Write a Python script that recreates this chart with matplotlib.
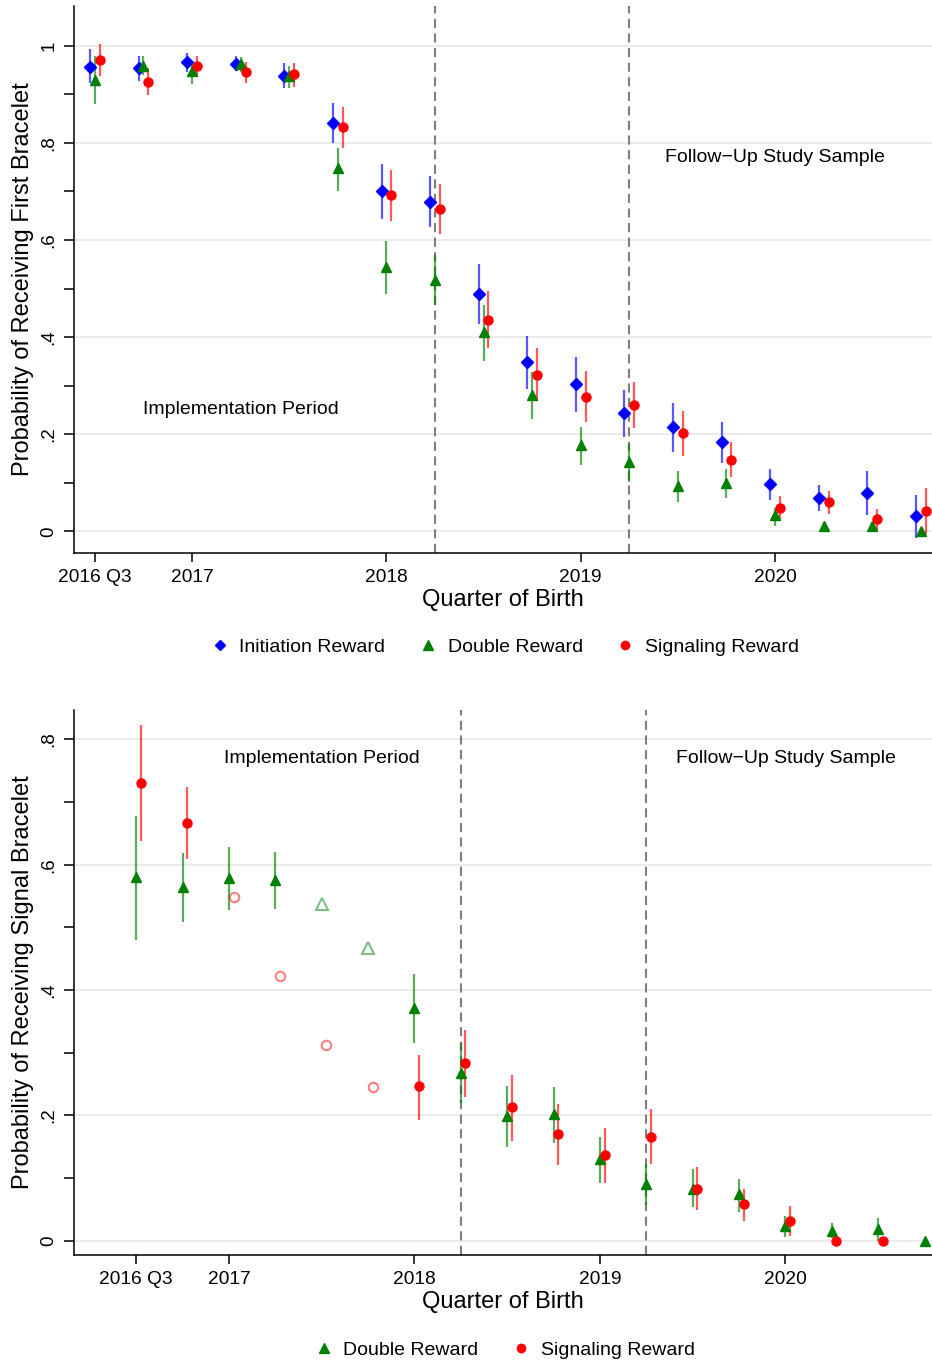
import numpy as np
import matplotlib
matplotlib.use("Agg")
import matplotlib.pyplot as plt
from matplotlib.lines import Line2D

plt.rcParams['font.family'] = ['Liberation Sans', 'DejaVu Sans']

nan = np.nan

# quarters of birth, 2016 Q3 .. 2020 Q4
quarters = ["2016 Q3", "2016 Q4", "2017 Q1", "2017 Q2", "2017 Q3", "2017 Q4",
            "2018 Q1", "2018 Q2", "2018 Q3", "2018 Q4", "2019 Q1", "2019 Q2",
            "2019 Q3", "2019 Q4", "2020 Q1", "2020 Q2", "2020 Q3", "2020 Q4"]
tick_quarters = ["2016 Q3", "2017 Q1", "2018 Q1", "2019 Q1", "2020 Q1"]
tick_labels = ["2016 Q3", "2017", "2018", "2019", "2020"]
cut_quarters = ["2018 Q2", "2019 Q2"]

# panel A: first bracelet
init_pt = [0.957, 0.954, 0.966, 0.962, 0.938, 0.841, 0.700, 0.679, 0.489, 0.348,
           0.303, 0.243, 0.214, 0.184, 0.097, 0.069, 0.080, 0.031]
init_lo = [0.923, 0.928, 0.947, 0.949, 0.913, 0.799, 0.643, 0.627, 0.428, 0.293,
           0.246, 0.195, 0.164, 0.140, 0.064, 0.041, 0.033, -0.013]
init_hi = [0.994, 0.978, 0.985, 0.978, 0.964, 0.883, 0.756, 0.732, 0.550, 0.402,
           0.359, 0.291, 0.264, 0.225, 0.129, 0.096, 0.124, 0.074]

double_pt = [0.930, 0.959, 0.948, 0.963, 0.937, 0.748, 0.544, 0.518, 0.411, 0.280,
             0.177, 0.143, 0.093, 0.100, 0.033, 0.012, 0.012, 0.001]
double_lo = [0.880, 0.940, 0.922, 0.947, 0.913, 0.701, 0.488, 0.466, 0.351, 0.232,
             0.136, 0.102, 0.061, 0.069, 0.012, 0.003, 0.000, 0.000]
double_hi = [0.978, 0.978, 0.968, 0.977, 0.959, 0.789, 0.598, 0.569, 0.467, 0.328,
             0.215, 0.181, 0.124, 0.129, 0.049, 0.020, 0.020, 0.004]

signal_pt = [0.971, 0.926, 0.959, 0.946, 0.942, 0.832, 0.693, 0.663, 0.436, 0.323,
             0.277, 0.260, 0.203, 0.148, 0.049, 0.060, 0.025, 0.042]
signal_lo = [0.938, 0.898, 0.938, 0.924, 0.916, 0.790, 0.640, 0.612, 0.377, 0.269,
             0.225, 0.212, 0.155, 0.111, 0.025, 0.035, 0.002, -0.005]
signal_hi = [1.004, 0.954, 0.978, 0.966, 0.964, 0.873, 0.744, 0.715, 0.495, 0.377,
             0.330, 0.307, 0.247, 0.184, 0.072, 0.083, 0.047, 0.090]

# panel B: signal bracelet
dbl2_pt = [0.580, 0.565, 0.579, 0.576, nan, nan, 0.371, 0.267, 0.199, 0.202,
           0.130, 0.090, 0.083, 0.074, 0.024, 0.016, 0.0185, 0.000]
dbl2_lo = [0.480, 0.509, 0.527, 0.529, nan, nan, 0.316, 0.219, 0.149, 0.156,
           0.092, 0.057, 0.053, 0.045, 0.006, 0.004, 0.000, 0.000]
dbl2_hi = [0.678, 0.618, 0.629, 0.620, nan, nan, 0.426, 0.315, 0.246, 0.245,
           0.165, 0.122, 0.114, 0.099, 0.040, 0.028, 0.036, 0.000]
dbl2_hollow = [nan, nan, nan, nan, 0.538, 0.467, nan, nan, nan, nan,
               nan, nan, nan, nan, nan, nan, nan, nan]

sig2_pt = [0.731, 0.667, nan, nan, nan, nan, 0.246, 0.283, 0.213, 0.170,
           0.137, 0.166, 0.083, 0.058, 0.032, 0.000, 0.000, nan]
sig2_lo = [0.638, 0.609, nan, nan, nan, nan, 0.193, 0.230, 0.159, 0.121,
           0.092, 0.122, 0.049, 0.032, 0.008, 0.000, 0.000, nan]
sig2_hi = [0.823, 0.724, nan, nan, nan, nan, 0.297, 0.336, 0.264, 0.218,
           0.179, 0.210, 0.118, 0.083, 0.055, 0.000, 0.000, nan]
sig2_hollow = [nan, nan, 0.549, 0.422, 0.312, 0.245, nan, nan, nan, nan,
               nan, nan, nan, nan, nan, nan, nan, nan]

BLUE = "#0000ff"
GREEN = "#008000"
RED = "#ff0000"
MS_D, MS_T, MS_O = 6.2, 7.5, 6.5

x = np.arange(len(quarters))
tick_pos = [quarters.index(q) for q in tick_quarters]
cut_pos = [quarters.index(q) for q in cut_quarters]

fig = plt.figure(figsize=(9.32, 13.65), dpi=100)
W, H = 932, 1365


def px_axes(left, top, right, bottom):
    return fig.add_axes([left / W, 1 - bottom / H, (right - left) / W, (bottom - top) / H])


def series(ax, xs, pt, lo, hi, color, marker, ms):
    ax.vlines(xs, lo, hi, color=color, alpha=0.65, lw=1.6, zorder=3)
    ax.plot(xs, pt, linestyle="none", marker=marker, ms=ms, color=color,
            mec=color, zorder=4)


def style(ax, ylim, yticks, ylabel):
    ax.set_ylim(*ylim)
    for s in ["top", "right"]:
        ax.spines[s].set_visible(False)
    for s in ["left", "bottom"]:
        ax.spines[s].set_linewidth(1.1)
    ax.set_yticks(yticks)
    ax.set_yticklabels(["0" if t == 0 else ("1" if t == 1 else ("%.1f" % t)[1:]) for t in yticks],
                       rotation=90, va="center")
    ax.set_yticks(np.arange(0.1, ylim[1], 0.2), minor=True)
    ax.tick_params(axis="y", which="both", length=7, width=1.1, labelsize=13.5, pad=5)
    ax.set_xticks(tick_pos)
    ax.set_xticklabels(tick_labels)
    ax.tick_params(axis="x", length=6.5, width=1.1, labelsize=13.8, pad=5)
    ax.grid(axis="y", which="major", color="#e6e6e6", lw=1.1, zorder=0)
    ax.set_axisbelow(True)
    for c in cut_pos:
        ax.axvline(c, color="#7f7f7f", lw=1.5, dashes=(4.4, 2.6), zorder=2)
    ax.set_xlabel("Quarter of Birth", fontsize=17)
    ax.set_ylabel(ylabel, fontsize=17)
    ax.yaxis.set_label_coords(-0.047, 0.5)


def legend(handles, labels, ypix):
    fig.legend(handles, labels, loc="center", bbox_to_anchor=(505 / W, 1 - ypix / H),
               ncol=len(labels), frameon=False, fontsize=14, handlelength=0.9,
               handletextpad=0.55, columnspacing=1.75)


# ---- panel A ----
ax1 = px_axes(74, 6, 932, 553)
ax1.set_xlim(-0.43, 17.23)
series(ax1, x - 0.1, init_pt, init_lo, init_hi, BLUE, "D", MS_D)
series(ax1, x, double_pt, double_lo, double_hi, GREEN, "^", MS_T)
series(ax1, x + 0.1, signal_pt, signal_lo, signal_hi, RED, "o", MS_O)
style(ax1, (-0.0445, 1.082), [0, 0.2, 0.4, 0.6, 0.8, 1.0],
      "Probability of Receiving First Bracelet")
ax1.xaxis.set_label_coords(0.5, -(600 - 553) / 547)
ax1.xaxis.label.set_va("center")
ax1.text(3.0, 0.25, "Implementation Period", fontsize=14, ha="center", va="center")
ax1.text(14.0, 0.769, "Follow\u2212Up Study Sample", fontsize=14, ha="center", va="center")

h1 = [Line2D([], [], ls="none", marker="D", ms=MS_D - 0.6, color=BLUE),
      Line2D([], [], ls="none", marker="^", ms=MS_T - 0.5, color=GREEN),
      Line2D([], [], ls="none", marker="o", ms=MS_O - 0.5, color=RED)]
legend(h1, ["Initiation Reward", "Double Reward", "Signaling Reward"], 647)

# ---- panel B ----
ax2 = px_axes(74, 710, 932, 1255)
ax2.set_xlim(-1.34, 17.16)
series(ax2, x, dbl2_pt, dbl2_lo, dbl2_hi, GREEN, "^", MS_T)
series(ax2, x + 0.1, sig2_pt, sig2_lo, sig2_hi, RED, "o", MS_O)
ax2.plot(x, dbl2_hollow, ls="none", marker="^", ms=8, mfc="none", mec=GREEN,
         mew=1.5, alpha=0.5, zorder=4)
ax2.plot(x + 0.1, sig2_hollow, ls="none", marker="o", ms=6.8, mfc="none", mec=RED,
         mew=1.5, alpha=0.5, zorder=4)
style(ax2, (-0.023, 0.847), [0, 0.2, 0.4, 0.6, 0.8],
      "Probability of Receiving Signal Bracelet")
ax2.xaxis.set_label_coords(0.5, -(1302 - 1255) / 545)
ax2.xaxis.label.set_va("center")
ax2.text(4.0, 0.770, "Implementation Period", fontsize=14, ha="center", va="center")
ax2.text(14.0, 0.770, "Follow\u2212Up Study Sample", fontsize=14, ha="center", va="center")

h2 = [Line2D([], [], ls="none", marker="^", ms=MS_T - 0.5, color=GREEN),
      Line2D([], [], ls="none", marker="o", ms=MS_O - 0.5, color=RED)]
legend(h2, ["Double Reward", "Signaling Reward"], 1350)

fig.savefig("out.png", dpi=100)
